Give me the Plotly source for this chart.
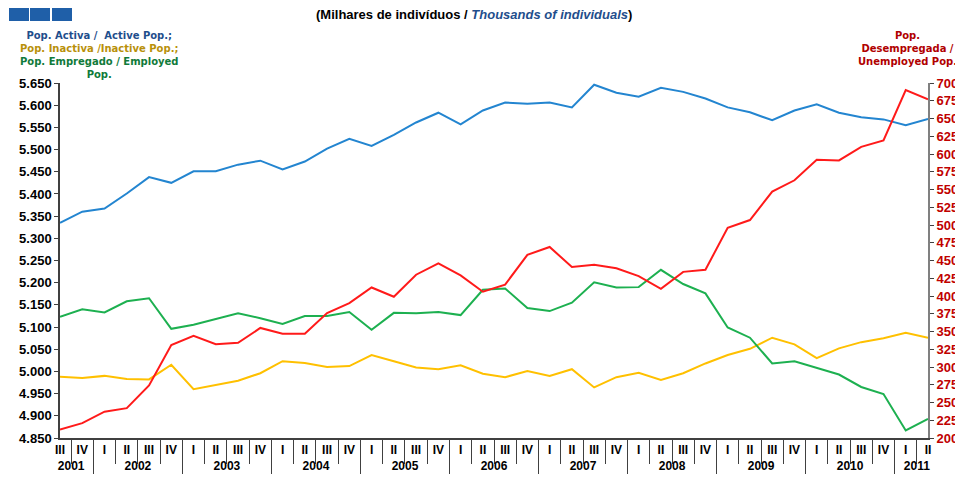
import plotly.graph_objects as go

ZW = "\u200b"  # keeps the 2001 quarter labels distinct so each year keeps I-IV order
years = ["2001"] * 2 + ["2002"] * 4 + ["2003"] * 4 + ["2004"] * 4 + ["2005"] * 4 + \
        ["2006"] * 4 + ["2007"] * 4 + ["2008"] * 4 + ["2009"] * 4 + ["2010"] * 4 + ["2011"] * 2
quarters = ["III" + ZW, "IV" + ZW] + ["I", "II", "III", "IV"] * 9 + ["I", "II"]

active = [5335, 5360, 5367, 5401, 5438, 5425, 5451, 5451, 5466, 5475,
          5455, 5473, 5502, 5524, 5508, 5533, 5561, 5583, 5557, 5588,
          5606, 5603, 5606, 5595, 5646, 5628, 5619, 5639, 5630, 5615,
          5595, 5584, 5566, 5588, 5602, 5583, 5573, 5568, 5555, 5569]
inactive = [4988, 4985, 4990, 4983, 4982, 5015, 4960, 4969, 4979, 4996,
            5023, 5019, 5010, 5012, 5037, 5023, 5009, 5005, 5014, 4995,
            4987, 5001, 4990, 5005, 4964, 4987, 4997, 4981, 4996, 5018,
            5037, 5051, 5076, 5061, 5030, 5052, 5066, 5075, 5087, 5076]
employed = [5123, 5140, 5133, 5158, 5165, 5096, 5105, 5118, 5131, 5120,
            5107, 5125, 5125, 5134, 5094, 5132, 5131, 5134, 5127, 5184,
            5187, 5143, 5136, 5155, 5201, 5189, 5190, 5229, 5197, 5176,
            5099, 5076, 5018, 5023, 5008, 4993, 4965, 4949, 4867, 4893]
unemployed = [212, 221, 237, 242, 274, 331, 344, 332, 334, 355,
              347, 347, 376, 390, 412, 399, 430, 446, 429, 406,
              416, 458, 469, 441, 444, 439, 428, 410, 434, 437,
              496, 507, 547, 563, 592, 591, 610, 619, 690, 677]

x = [years, quarters]
FONT = "Liberation Sans, Arial, sans-serif"
LFONT = "DejaVu Sans, sans-serif"

# page body has an 8px margin, so the figure is made 8px smaller and shifted
OFF = 8
W, H = 963 - OFF, 479 - OFF
PL, PR, PT, PB = 60, 928, 83, 438  # plot area in window pixels

fig = go.Figure()
fig.add_trace(go.Scatter(x=x, y=active, mode="lines", line=dict(color="#2385D0", width=2), yaxis="y"))
fig.add_trace(go.Scatter(x=x, y=inactive, mode="lines", line=dict(color="#FFC000", width=2), yaxis="y"))
fig.add_trace(go.Scatter(x=x, y=employed, mode="lines", line=dict(color="#1DB050", width=2), yaxis="y"))
fig.add_trace(go.Scatter(x=x, y=unemployed, mode="lines", line=dict(color="#FF1A1A", width=2), yaxis="y2"))

fig.update_layout(
    width=W, height=H,
    margin=dict(l=PL - OFF, r=963 - PR, t=PT - OFF, b=479 - PB),
    paper_bgcolor="white", plot_bgcolor="white",
    showlegend=False,
    separators=",.",
    font=dict(family=FONT, size=11, color="black"),
    xaxis=dict(
        type="multicategory",
        showgrid=False, zeroline=False,
        showline=True, linecolor="#404040", linewidth=1.5,
        ticks="outside", tickson="boundaries", ticklen=24, tickcolor="#404040", tickwidth=1,
        showdividers=True, dividercolor="#404040", dividerwidth=1,
        tickfont=dict(family=FONT, size=12, color="black", weight="bold"),
        automargin=False,
    ),
    yaxis=dict(
        range=[4850, 5650], dtick=50, tickformat=",.0f",
        showgrid=False, zeroline=False,
        showline=True, linecolor="#404040", linewidth=1.5,
        ticks="outside", ticklen=4, tickcolor="#404040",
        tickfont=dict(family=FONT, size=13, color="black", weight="bold"),
        automargin=False,
    ),
    yaxis2=dict(
        range=[200, 700], dtick=25, overlaying="y", side="right",
        showgrid=False, zeroline=False,
        showline=True, linecolor="#808080", linewidth=2,
        ticks="outside", ticklen=4, tickcolor="#404040",
        tickfont=dict(family=FONT, size=13, color="#C00000", weight="bold"),
        automargin=False,
    ),
    yaxis3=dict(
        range=[4850, 5650], dtick=50, overlaying="y", side="left",
        showgrid=False, zeroline=False, showline=False,
        ticks="inside", ticklen=4, tickcolor="#404040", showticklabels=False,
    ),
    yaxis4=dict(
        range=[200, 700], dtick=25, overlaying="y", side="right",
        showgrid=False, zeroline=False, showline=False,
        ticks="inside", ticklen=4, tickcolor="#404040", showticklabels=False,
    ),
)

def px_x(px):
    return (px - PL) / (PR - PL)

def px_y(py):
    return (PB - py) / (PB - PT)

# logo squares
for x0 in (9, 30, 52):
    fig.add_shape(type="rect", xref="paper", yref="paper",
                  x0=px_x(x0), x1=px_x(x0 + 20), y0=px_y(21), y1=px_y(5),
                  fillcolor="#1F5FA8", line=dict(width=0), layer="above")

def ann(text, px, py, color, size, family, yanchor="middle", xanchor="center"):
    fig.add_annotation(text=text, xref="paper", yref="paper",
                       x=px_x(px), y=px_y(py), align="center",
                       xanchor=xanchor, yanchor=yanchor, showarrow=False,
                       font=dict(family=family, size=size, color=color, weight="bold"))

ann("(Milhares de indivíduos / <i><span style='color:#1F4E8C'>Thousands of individuals</span></i>)",
    474, 14, "black", 13, FONT)

left_legend = ("<span style='color:#1F4E8C'>Pop. Activa /  Active Pop.;</span><br>"
               "<span style='color:#B8900A'>Pop. Inactiva /Inactive Pop.;</span><br>"
               "<span style='color:#107A3A'>Pop. Empregado / Employed</span><br>"
               "<span style='color:#107A3A'>Pop.</span>")
ann(left_legend, 99, 28, "#1F4E8C", 10, LFONT, yanchor="top")

right_legend = "Pop.<br>Desempregada /<br>Unemployed Pop."
ann(right_legend, 907, 28, "#B00000", 10, LFONT, yanchor="top")

fig.write_html("out.html")
